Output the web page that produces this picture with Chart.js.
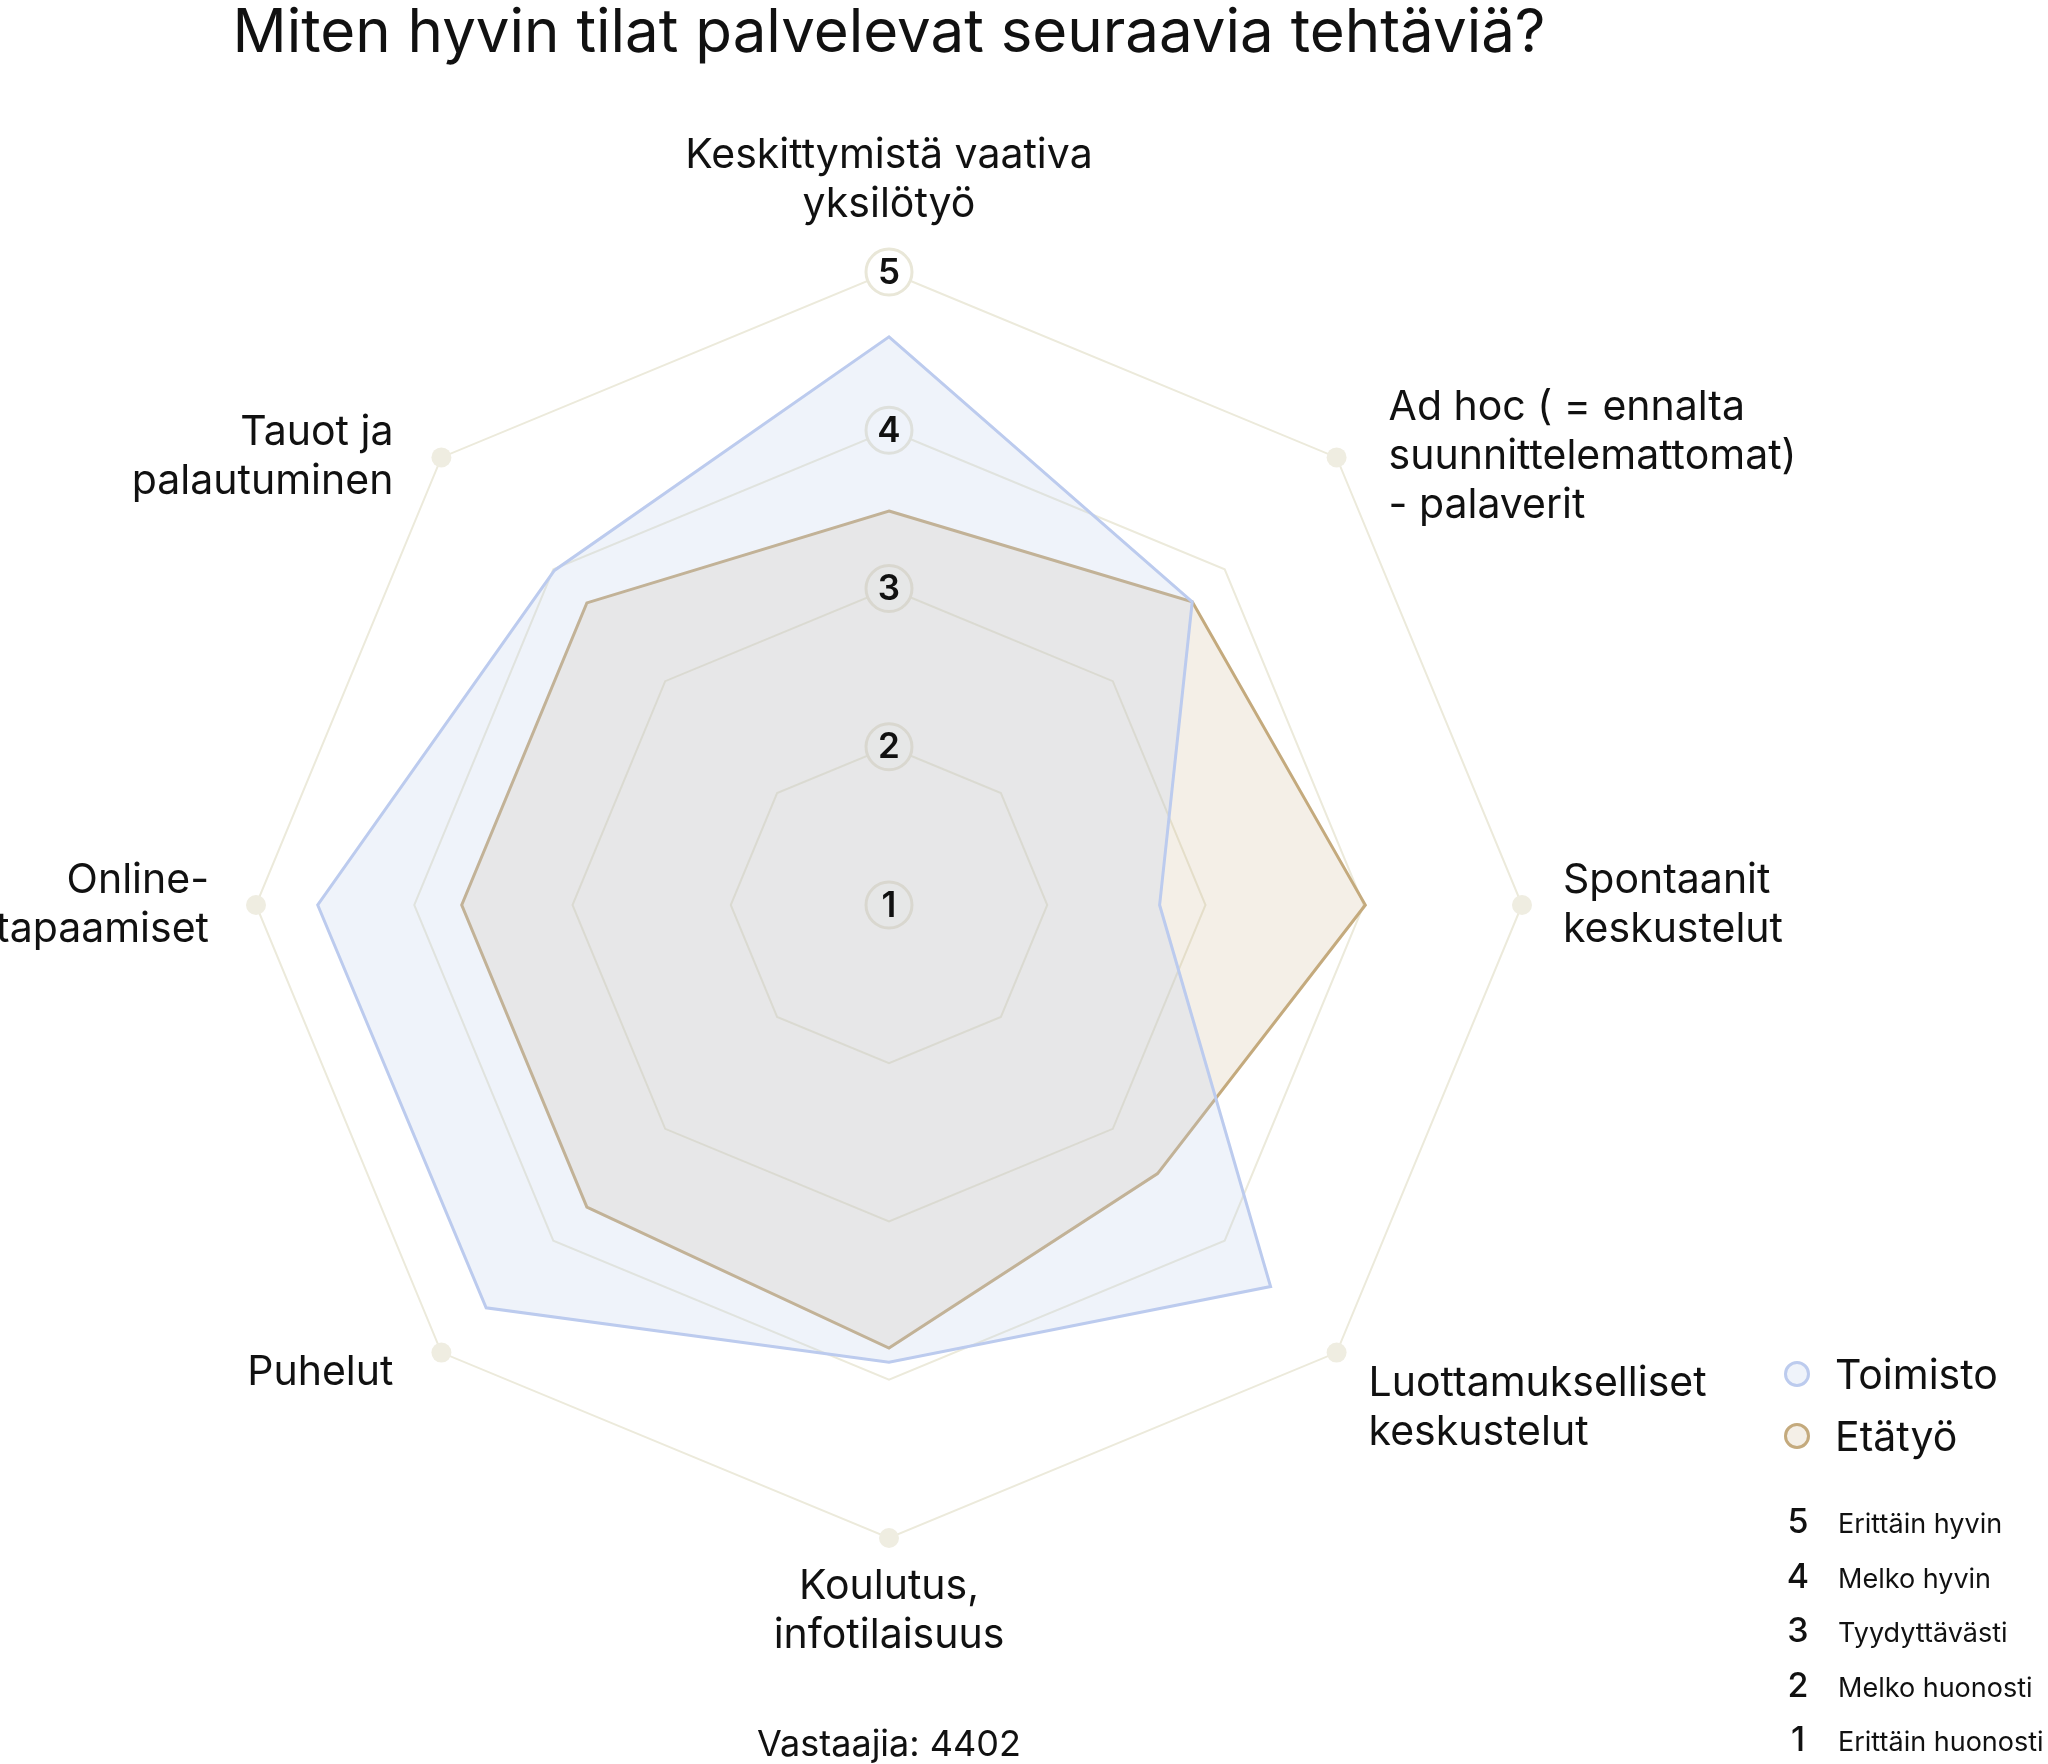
<!DOCTYPE html>
<html lang="fi">
<head>
<meta charset="utf-8">
<title>Miten hyvin tilat palvelevat seuraavia tehtäviä?</title>
<script src="https://cdn.jsdelivr.net/npm/chart.js@4.4.1/dist/chart.umd.min.js"></script>
<style>
    html, body { margin: 0; padding: 0; background: #fff; overflow: hidden; }
    #wrap { position: relative; width: 2048px; height: 1764px; font-family: Inter, sans-serif; color: #111; overflow: hidden; }
    #chart { position: absolute; left: 0; top: 0; }
    #legend { position: absolute; left: 1784px; top: 1343px; }
    .leg-item { display: flex; align-items: center; height: 62px; font-size: 41px; line-height: 1; }
    .leg-dot { width: 20px; height: 20px; border-radius: 50%; border: 3px solid; margin-right: 25px; }
    #key { position: absolute; left: 1782px; top: 1504px; }
    .key-row { display: flex; align-items: baseline; height: 54.5px; line-height: 1; white-space: nowrap; }
    .key-num { width: 32px; text-align: center; font-size: 34px; font-weight: 500; margin-right: 24px; }
    .key-txt { font-size: 27px; }
</style>
</head>
<body>
<div id="wrap">
    <canvas id="chart"></canvas>
    <div id="legend"></div>
    <div id="key"></div>
</div>
<script>
const categories = [
    ['Keskittymistä vaativa', 'yksilötyö'],
    ['Ad hoc ( = ennalta', 'suunnittelemattomat)', '- palaverit'],
    ['Spontaanit', 'keskustelut'],
    ['Luottamukselliset', 'keskustelut'],
    ['Koulutus,', 'infotilaisuus'],
    ['Puhelut'],
    ['Online-', 'tapaamiset'],
    ['Tauot ja', 'palautuminen']
];
const toimisto = [4.59, 3.71, 2.71, 4.41, 3.89, 4.60, 4.61, 3.99];
const etatyo = [3.49, 3.71, 4.01, 3.40, 3.80, 3.70, 3.70, 3.70];
const outerRing = [5, 5, 5, 5, 5, 5, 5, 5];

const tickValues = [5, 4, 3, 2, 1];
const tickTexts = ['Erittäin hyvin', 'Melko hyvin', 'Tyydyttävästi', 'Melko huonosti', 'Erittäin huonosti'];

const chartTitle = 'Miten hyvin tilat palvelevat seuraavia tehtäviä?';
const respondents = 'Vastaajia: 4402';

// label placement around the outer ring, by angle
const labelGap = { 45: 52, 90: 41, 135: 32, 225: 48, 270: 47, 315: 48 };
const labelDrop = { 135: 43, 225: 32 };
const labelLine = 49;

const radarDecor = {
    id: 'radarDecor',
    beforeDatasetsDraw(chart) {
        const r = chart.scales.r;
        const ctx = chart.ctx;
        ctx.save();
        r.ticks.forEach(t => {
            const y = r.yCenter - r.getDistanceFromCenterForValue(t.value);
            ctx.beginPath();
            ctx.arc(r.xCenter, y, 23, 0, Math.PI * 2);
            ctx.fillStyle = '#fff';
            ctx.fill();
            ctx.lineWidth = 3;
            ctx.strokeStyle = '#e9e7d8';
            ctx.stroke();
        });
        ctx.restore();
    },
    afterDatasetsDraw(chart) {
        const r = chart.scales.r;
        const ctx = chart.ctx;
        ctx.save();
        ctx.fillStyle = '#111';

        // tick numbers
        ctx.font = '600 35px Inter';
        ctx.textAlign = 'center';
        ctx.textBaseline = 'middle';
        r.ticks.forEach(t => {
            const y = r.yCenter - r.getDistanceFromCenterForValue(t.value);
            ctx.fillText(t.label, r.xCenter, y + 1);
        });

        // category labels
        ctx.font = '400 41px Inter';
        ctx.textBaseline = 'alphabetic';
        categories.forEach((lines, i) => {
            const p = r.getPointPosition(i, r.drawingArea);
            const deg = Math.round(r.getIndexAngle(i) * 180 / Math.PI) % 360;
            const n = lines.length;
            let x = p.x;
            let first;
            if (deg === 0) {
                ctx.textAlign = 'center';
                first = p.y - 55 - (n - 1) * labelLine;
            } else if (deg === 180) {
                ctx.textAlign = 'center';
                first = p.y + 61;
            } else {
                const right = deg < 180;
                ctx.textAlign = right ? 'left' : 'right';
                x = p.x + (right ? 1 : -1) * labelGap[deg];
                if (labelDrop[deg] !== undefined) {
                    first = p.y + labelDrop[deg];
                } else {
                    first = p.y + 12 - (n - 1) * labelLine / 2;
                }
            }
            lines.forEach((line, k) => ctx.fillText(line, x, first + k * labelLine));
        });
        ctx.restore();
    }
};

const chart = new Chart(document.getElementById('chart'), {
    type: 'radar',
    data: {
        labels: categories,
        datasets: [
            {
                label: 'Toimisto',
                data: toimisto,
                borderColor: '#bccbee',
                backgroundColor: 'rgba(190, 204, 236, 0.24)',
                borderWidth: 3,
                pointRadius: 0,
                fill: true,
                clip: false
            },
            {
                label: 'Etätyö',
                data: etatyo,
                borderColor: '#c4aa7d',
                backgroundColor: 'rgba(196, 170, 125, 0.19)',
                borderWidth: 3,
                pointRadius: 0,
                fill: true,
                clip: false
            },
            {
                label: 'ring',
                data: outerRing,
                showLine: false,
                fill: false,
                borderWidth: 0,
                pointRadius: ctx => ctx.dataIndex === 0 ? 0 : 10,
                pointBorderWidth: 0,
                pointBackgroundColor: '#efede1',
                clip: false
            }
        ]
    },
    options: {
        responsive: true,
        maintainAspectRatio: false,
        animation: false,
        events: [],
        layout: { padding: { left: 0, right: 270, top: 0, bottom: 0 } },
        scales: {
            r: {
                min: 1,
                max: 5,
                ticks: { stepSize: 1, display: false },
                grid: { color: '#eceadb', lineWidth: 2 },
                angleLines: { display: false },
                pointLabels: { display: false }
            }
        },
        plugins: {
            legend: { display: false },
            tooltip: { enabled: false },
            title: {
                display: true,
                text: chartTitle,
                color: '#111',
                font: { family: 'Inter', size: 60, weight: '400', lineHeight: 1.1 },
                padding: { top: 1, bottom: 205 }
            },
            subtitle: {
                display: true,
                position: 'bottom',
                text: respondents,
                color: '#111',
                font: { family: 'Inter', size: 36, weight: '400', lineHeight: 1 },
                padding: { top: 189, bottom: 1 }
            }
        }
    },
    plugins: [radarDecor]
});

// html legend built from the chart's own datasets
const legendEl = document.getElementById('legend');
chart.data.datasets.filter(ds => ds.label !== 'ring').forEach(ds => {
    const item = document.createElement('div');
    item.className = 'leg-item';
    item.innerHTML = `<span class="leg-dot" style="border-color:${ds.borderColor};background:${ds.backgroundColor}"></span><span>${ds.label}</span>`;
    legendEl.appendChild(item);
});

const keyEl = document.getElementById('key');
tickValues.forEach((v, i) => {
    const row = document.createElement('div');
    row.className = 'key-row';
    row.innerHTML = `<span class="key-num">${v}</span><span class="key-txt">${tickTexts[i]}</span>`;
    keyEl.appendChild(row);
});
</script>
</body>
</html>
